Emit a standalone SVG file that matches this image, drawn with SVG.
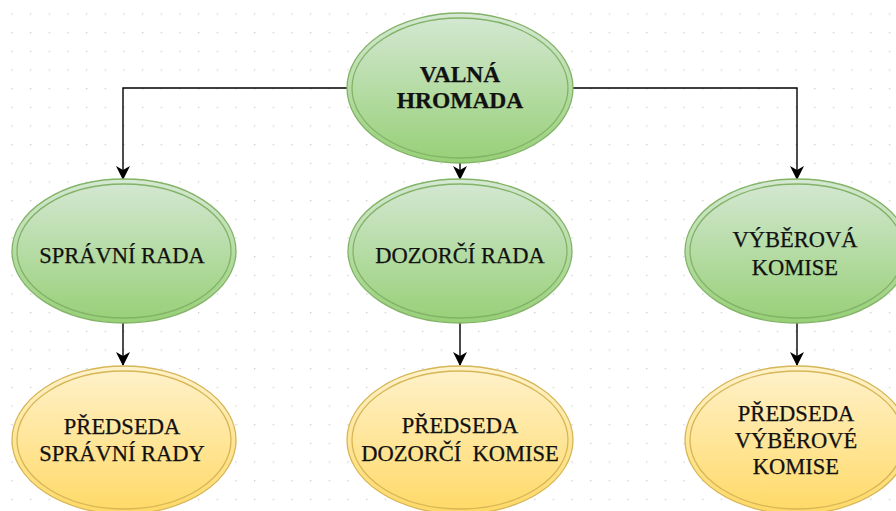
<svg xmlns="http://www.w3.org/2000/svg" width="896" height="511" viewBox="0 0 896 511">
<defs>
<pattern id="grid" x="11.3" y="13.3" width="18.67" height="18.67" patternUnits="userSpaceOnUse">
<circle cx="0.7" cy="0.7" r="0.8" fill="#d0d0d0"/>
</pattern>
<linearGradient id="g" x1="0" y1="0" x2="0" y2="1">
<stop offset="0" stop-color="#d5e8d4"/>
<stop offset="1" stop-color="#97d077"/>
</linearGradient>
<linearGradient id="y" x1="0" y1="0" x2="0" y2="1">
<stop offset="0" stop-color="#fff2cc"/>
<stop offset="1" stop-color="#ffd966"/>
</linearGradient>
<marker id="arr" viewBox="0 0 14 14" refX="13" refY="7" markerWidth="14" markerHeight="14" markerUnits="userSpaceOnUse" orient="auto">
<path d="M0,0 L14,7 L0,14 L4,7 Z" fill="#000"/>
</marker>
<style>
.gr{fill:url(#g);stroke:#82b366;stroke-width:1.3}
.gi{fill:none;stroke:#82b366;stroke-width:1.3}
.ye{fill:url(#y);stroke:#d6b656;stroke-width:1.3}
.yi{fill:none;stroke:#d6b656;stroke-width:1.3}
.t{font-family:"Liberation Serif","Times New Roman",serif;font-size:22.5px;fill:#111;stroke:#111;stroke-width:0.25;text-anchor:middle}
.b{font-weight:bold;font-size:23.5px}
.c{fill:none;stroke:#000;stroke-width:1.4;marker-end:url(#arr)}
</style>
</defs>
<rect width="896" height="511" fill="#fff"/>
<rect width="896" height="511" fill="url(#grid)"/>
<g id="connectors">
<path class="c" d="M347,88 H123 V179"/>
<path class="c" d="M573,88 H797 V179"/>
<path class="c" d="M460,163 V179"/>
<path class="c" d="M123,323 V365"/>
<path class="c" d="M460,323 V365"/>
<path class="c" d="M797,323 V365"/>
</g>
<g id="valna">
<ellipse class="gr" cx="460" cy="88" rx="113" ry="75"/>
<ellipse class="gi" cx="460" cy="88" rx="108" ry="70"/>
<text class="t b" x="460" y="82">VALNÁ</text>
<text class="t b" x="460" y="108">HROMADA</text>
</g>
<g id="spravni">
<ellipse class="gr" cx="124" cy="251" rx="112" ry="72"/>
<ellipse class="gi" cx="124" cy="251" rx="107" ry="67"/>
<text class="t" x="122" y="263">SPRÁVNÍ RADA</text>
</g>
<g id="dozorci">
<ellipse class="gr" cx="460" cy="251" rx="112" ry="72"/>
<ellipse class="gi" cx="460" cy="251" rx="107" ry="67"/>
<text class="t" x="460" y="263">DOZORČÍ RADA</text>
</g>
<g id="vyberova">
<ellipse class="gr" cx="797" cy="251" rx="112" ry="72"/>
<ellipse class="gi" cx="797" cy="251" rx="107" ry="67"/>
<text class="t" x="795" y="247">VÝBĚROVÁ</text>
<text class="t" x="795" y="275">KOMISE</text>
</g>
<g id="predseda-spravni">
<ellipse class="ye" cx="124" cy="440" rx="112" ry="74"/>
<ellipse class="yi" cx="124" cy="440" rx="107" ry="69"/>
<text class="t" x="122" y="434">PŘEDSEDA</text>
<text class="t" x="122" y="461">SPRÁVNÍ RADY</text>
</g>
<g id="predseda-dozorci">
<ellipse class="ye" cx="460" cy="440" rx="113" ry="74"/>
<ellipse class="yi" cx="460" cy="440" rx="108" ry="69"/>
<text class="t" x="460" y="433">PŘEDSEDA</text>
<text class="t" x="460" y="461" xml:space="preserve">DOZORČÍ  KOMISE</text>
</g>
<g id="predseda-vyberova">
<ellipse class="ye" cx="797" cy="440" rx="112" ry="74"/>
<ellipse class="yi" cx="797" cy="440" rx="107" ry="69"/>
<text class="t" x="796" y="421">PŘEDSEDA</text>
<text class="t" x="796" y="448">VÝBĚROVÉ</text>
<text class="t" x="796" y="474">KOMISE</text>
</g>
</svg>
